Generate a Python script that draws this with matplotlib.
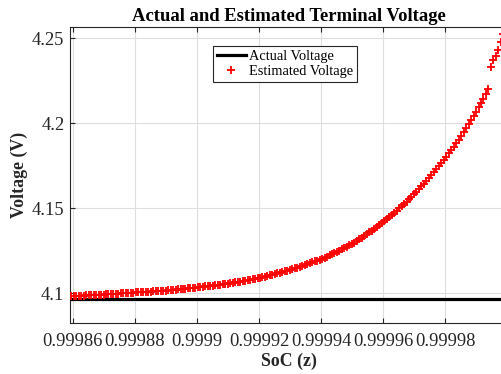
import numpy as np
import matplotlib
matplotlib.use("Agg")
import matplotlib.pyplot as plt
from matplotlib.ticker import FuncFormatter

# Terminal voltage data
actual_voltage = 4.0963  # measured terminal voltage (V), constant over the window

# Estimated terminal voltage (V), one sample per SoC step
estimated_voltage = [
    4.0982, 4.0982, 4.0983, 4.0984, 4.0984, 4.0985, 4.0986, 4.0986, 4.0987, 4.0988,
    4.0989, 4.0990, 4.0990, 4.0991, 4.0992, 4.0993, 4.0994, 4.0995, 4.0996, 4.0997,
    4.0998, 4.0999, 4.1000, 4.1001, 4.1002, 4.1003, 4.1004, 4.1005, 4.1006, 4.1007,
    4.1007, 4.1008, 4.1009, 4.1010, 4.1011, 4.1012, 4.1013, 4.1014, 4.1015, 4.1017,
    4.1018, 4.1019, 4.1020, 4.1022, 4.1023, 4.1024, 4.1026, 4.1027, 4.1029, 4.1030,
    4.1032, 4.1034, 4.1035, 4.1037, 4.1039, 4.1040, 4.1042, 4.1044, 4.1046, 4.1048,
    4.1050, 4.1052, 4.1054, 4.1056, 4.1059, 4.1061, 4.1063, 4.1066, 4.1068, 4.1071,
    4.1073, 4.1076, 4.1079, 4.1082, 4.1085, 4.1088, 4.1091, 4.1094, 4.1097, 4.1101,
    4.1105, 4.1108, 4.1112, 4.1116, 4.1120, 4.1124, 4.1128, 4.1132, 4.1136, 4.1141,
    4.1145, 4.1150, 4.1155, 4.1159, 4.1164, 4.1169, 4.1175, 4.1180, 4.1186, 4.1191,
    4.1197, 4.1203, 4.1209, 4.1215, 4.1222, 4.1229, 4.1236, 4.1243, 4.1250, 4.1257,
    4.1265, 4.1272, 4.1280, 4.1288, 4.1297, 4.1307, 4.1316, 4.1326, 4.1336, 4.1346,
    4.1357, 4.1368, 4.1378, 4.1390, 4.1401, 4.1412, 4.1424, 4.1436, 4.1447, 4.1460,
    4.1472, 4.1485, 4.1498, 4.1511, 4.1524, 4.1538, 4.1552, 4.1567, 4.1581, 4.1596,
    4.1612, 4.1627, 4.1644, 4.1660, 4.1677, 4.1694, 4.1710, 4.1728, 4.1746, 4.1764,
    4.1782, 4.1801, 4.1821, 4.1841, 4.1861, 4.1882, 4.1903, 4.1925, 4.1947, 4.1970,
    4.1993, 4.2017, 4.2041, 4.2066, 4.2092, 4.2118, 4.2144, 4.2172, 4.2200,
    4.2331, 4.2371, 4.2395, 4.2430, 4.2475, 4.2525,
]

# SoC sampling grid of the estimator
soc_first = 0.9998595
soc_step = 0.8e-6
soc = soc_first + soc_step * np.arange(len(estimated_voltage))

x_ticks = [0.99986, 0.99988, 0.99990, 0.99992, 0.99994, 0.99996, 0.99998]
y_ticks = [4.10, 4.15, 4.20, 4.25]

serif = ["Liberation Serif", "DejaVu Serif"]
text_col = "#262626"

fig = plt.figure(figsize=(5.02, 3.74), dpi=100)
ax = fig.add_axes([70 / 502, 51 / 374, 437.4 / 502, 296 / 374])

ax.axhline(actual_voltage, color="black", linewidth=2.3, label="Actual Voltage", zorder=3)
ax.plot(soc, estimated_voltage, linestyle="none", marker="+", color="red",
        markersize=5.5, markeredgewidth=1.3, label="Estimated Voltage", zorder=4)

ax.set_xlim(0.9998591, 1.0)
ax.set_ylim(4.0824, 4.2565)
ax.set_xticks(x_ticks)
ax.set_yticks(y_ticks)
ax.xaxis.set_major_formatter(FuncFormatter(lambda v, p: "%g" % round(v, 6)))
ax.yaxis.set_major_formatter(FuncFormatter(lambda v, p: "%g" % round(v, 3)))

ax.grid(True, color="#dedede", linewidth=0.8)
ax.set_axisbelow(True)
for s in ax.spines.values():
    s.set_color(text_col)
    s.set_linewidth(0.8)
ax.tick_params(direction="in", length=3.5, width=0.8, color=text_col,
               top=True, right=True, labelsize=13.3, labelcolor=text_col)
ax.tick_params(axis="x", pad=7)
ax.tick_params(axis="y", pad=4)
for lab in ax.get_xticklabels() + ax.get_yticklabels():
    lab.set_family(serif)

ax.set_title("Actual and Estimated Terminal Voltage", family=serif,
             fontweight="bold", fontsize=13.4, pad=4, color="black")
ax.set_xlabel("SoC (z)", family=serif, fontweight="bold", fontsize=12.8,
              color=text_col, labelpad=2)
ax.set_ylabel("Voltage (V)", family=serif, fontweight="bold", fontsize=12.8,
              color=text_col, labelpad=3)

leg = ax.legend(loc="upper left", bbox_to_anchor=(0.327, 0.936), borderaxespad=0,
                prop={"family": serif, "size": 10.4}, fancybox=False, framealpha=1,
                edgecolor=text_col, handlelength=2.0, handletextpad=0.25,
                borderpad=0.25, labelspacing=0.15)
leg.get_frame().set_linewidth(0.8)

fig.savefig("out.png", dpi=100)
